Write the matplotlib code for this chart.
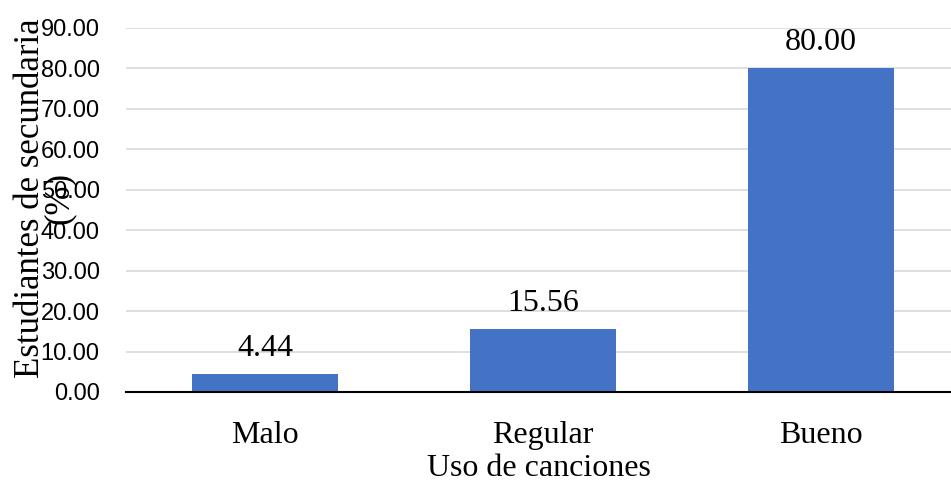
import matplotlib
matplotlib.use('Agg')
import matplotlib.pyplot as plt
from matplotlib.ticker import FormatStrFormatter

categorias = ['Malo', 'Regular', 'Bueno']
porcentajes = [4.44, 15.56, 80.00]
yticks = [0, 10, 20, 30, 40, 50, 60, 70, 80, 90]

SERIF = 'Liberation Serif'
SANS = 'Liberation Sans'

fig = plt.figure(figsize=(9.51, 4.80), dpi=100)
ax = fig.add_axes([126/951, 88/480, 1 - 126/951, 364/480])

x = list(range(len(categorias)))
bars = ax.bar(x, porcentajes, width=0.525, color='#4472C4', zorder=3)

for xi, v in zip(x, porcentajes):
    ax.annotate(f'{v:.2f}', (xi, v), xytext=(0, 8), textcoords='offset points',
                ha='center', va='bottom', fontsize=23, family=SERIF)

ax.set_xlim(-0.5, (951 - 265) / 278)
ax.set_ylim(0, 90)
ax.set_yticks(yticks)
ax.yaxis.set_major_formatter(FormatStrFormatter('%.2f'))
ax.set_xticks(x)
ax.set_xticklabels(categorias, fontsize=23, family=SERIF)
for lab in ax.get_yticklabels():
    lab.set_fontfamily(SANS)
    lab.set_fontsize(17)
ax.tick_params(axis='both', length=0)
ax.tick_params(axis='y', pad=19)
ax.tick_params(axis='x', pad=21)

ax.grid(axis='y', color='#d9d9d9', linewidth=1.2, zorder=0)
for s in ['top', 'right', 'left']:
    ax.spines[s].set_visible(False)
ax.spines['bottom'].set_color('black')
ax.spines['bottom'].set_linewidth(1.5)
ax.spines['bottom'].set_zorder(4)

ax.set_xlabel('Uso de canciones', fontsize=23, family=SERIF, labelpad=3)
fig.text(45/951, 1 - 198/480, 'Estudiantes de secundaria\n(%)', rotation=90,
         ha='center', va='center', multialignment='center', linespacing=0.85,
         fontsize=25, family=SERIF)

fig.savefig('out.png', dpi=100)
